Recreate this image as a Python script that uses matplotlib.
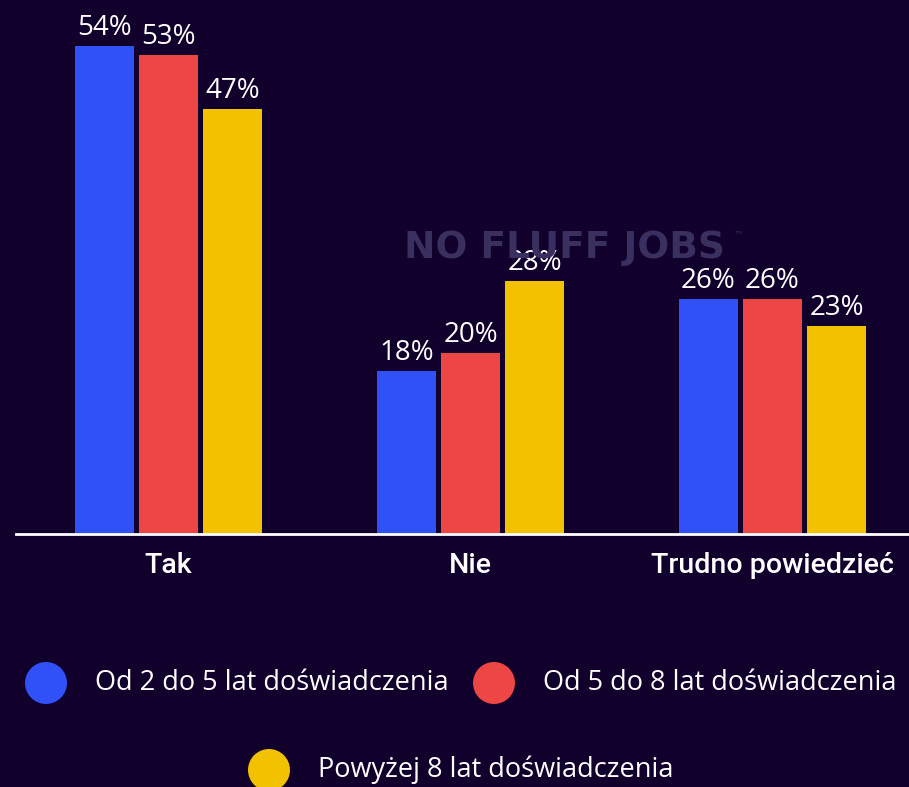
import matplotlib
matplotlib.use("Agg")
import matplotlib.pyplot as plt
from matplotlib.patches import Ellipse

CATEGORIES = ["Tak", "Nie", "Trudno powiedzieć"]
SERIES = ["Od 2 do 5 lat doświadczenia",
          "Od 5 do 8 lat doświadczenia",
          "Powyżej 8 lat doświadczenia"]
VALUES = [
    [54, 18, 26],
    [53, 20, 26],
    [47, 28, 23],
]

BG = "#10002B"
COLOURS = ["#3050F8", "#EE4545", "#F2C200"]
TEXT = "#FFFFFF"

W, H = 909, 787
fig = plt.figure(figsize=(W / 100, H / 100), dpi=100, facecolor=BG)

# axes from x=16px to right edge, baseline at y=534px from top
ax = fig.add_axes([16 / W, (H - 534) / H, (W - 16) / W, 534 / H])
ax.set_facecolor(BG)
ax.set_xlim(-0.505, 2.452)
ax.set_ylim(0, 59.07)

width = 0.195
step = 0.212
for i, (name, vals, col) in enumerate(zip(SERIES, VALUES, COLOURS)):
    xs = [g + (i - 1) * step for g in range(len(CATEGORIES))]
    bars = ax.bar(xs, vals, width=width, color=col, zorder=2)
    for b, v in zip(bars, vals):
        ax.text(b.get_x() + b.get_width() / 2, v + 0.45, f"{v}%",
                ha="center", va="bottom", color=TEXT, fontsize=20,
                family="Open Sans", zorder=3)

for s in ("top", "right", "left"):
    ax.spines[s].set_visible(False)
ax.spines["bottom"].set_color(TEXT)
ax.spines["bottom"].set_linewidth(2)
ax.set_yticks([])
ax.set_xticks(range(len(CATEGORIES)))
ax.set_xticklabels(CATEGORIES, color=TEXT, fontsize=20.5, family="Roboto",
                   fontweight="medium")
ax.tick_params(axis="x", length=0, pad=13)

# watermark
fig.text(564 / W, 1 - 248 / H, "NO FLUFF JOBS", ha="center", va="center",
         fontsize=27, fontweight="heavy", family="DejaVu Sans",
         color="#3A3060", zorder=0)
fig.text(738 / W, 1 - 234 / H, "™", ha="center", va="center",
         fontsize=7, color="#3A3060")

# legend
legend_items = [(46, 683, 95), (494, 683, 543), (269, 770, 318)]
for (cx, cy, tx), name, col in zip(legend_items, SERIES, COLOURS):
    fig.patches.append(Ellipse((cx / W, 1 - cy / H), 42 / W, 42 / H,
                               transform=fig.transFigure, facecolor=col,
                               edgecolor="none"))
    fig.text(tx / W, 1 - cy / H, name, ha="left", va="center",
             color=TEXT, fontsize=19.5, family="Open Sans")

fig.savefig("out.png", dpi=100, facecolor=BG)
